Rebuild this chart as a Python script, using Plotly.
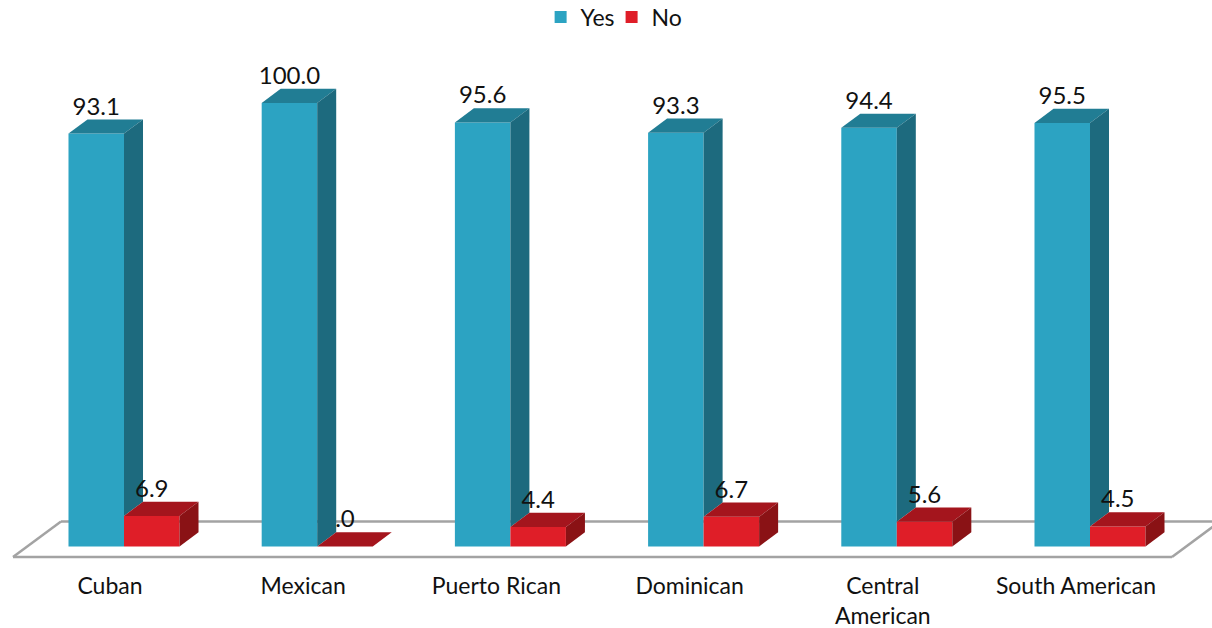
import plotly.graph_objects as go

categories = ["Cuban", "Mexican", "Puerto Rican", "Dominican", "Central<br>American", "South American"]
yes_values = [93.1, 100.0, 95.6, 93.3, 94.4, 95.5]
no_values = [6.9, 0.0, 4.4, 6.7, 5.6, 4.5]
yes_labels = ["93.1", "100.0", "95.6", "93.3", "94.4", "95.5"]
no_labels = ["6.9", ".0", "4.4", "6.7", "5.6", "4.5"]

YES_FRONT, YES_SIDE, YES_TOP = "#2CA3C2", "#1D6A7E", "#217D94"
NO_FRONT, NO_SIDE, NO_TOP = "#DF1E28", "#8A1215", "#A4151D"
FLOOR = "#A3A3A3"
FONT = "Lato"

BAR_W = 0.2873      # width of one bar, in category units
DX = 0.0984         # depth of the 3D effect, category units
DY = 3.2            # depth of the 3D effect, value units
LABEL_UP = 5.65     # label centre above the bar's front top
TICK_SHIFT = -0.0725

xs = list(range(len(categories)))
fig = go.Figure()


def poly(px, py, color):
    fig.add_trace(go.Scatter(x=px + [px[0]], y=py + [py[0]], mode="lines", fill="toself",
                             fillcolor=color, line=dict(width=0, color=color),
                             hoverinfo="skip", showlegend=False))


fig.add_trace(go.Bar(x=xs, y=yes_values, width=BAR_W, offset=-BAR_W, name="Yes",
                     marker=dict(color=YES_FRONT, line=dict(width=0))))
fig.add_trace(go.Bar(x=xs, y=no_values, width=BAR_W, offset=0, name="No",
                     marker=dict(color=NO_FRONT, line=dict(width=0))))

for x, y, n in zip(xs, yes_values, no_values):
    l, r = x - BAR_W, x
    poly([l, r, r + DX, l + DX], [y, y, y + DY, y + DY], YES_TOP)
    poly([r, r + DX, r + DX, r], [n, n + DY, y + DY, y], YES_SIDE)

for x, n in zip(xs, no_values):
    l, r = x, x + BAR_W
    poly([l, r, r + DX, l + DX], [n, n, n + DY, n + DY], NO_TOP)
    if n > 0:
        poly([r, r + DX, r + DX, r], [0, DY, n + DY, n], NO_SIDE)

fig.add_trace(go.Scatter(x=[x - BAR_W / 2 for x in xs], y=[v + LABEL_UP for v in yes_values],
                         text=yes_labels, mode="text", textposition="middle center",
                         textfont=dict(family=FONT, size=24, color="#111111"),
                         hoverinfo="skip", showlegend=False, cliponaxis=False))
fig.add_trace(go.Scatter(x=[x + BAR_W / 2 for x in xs], y=[v + LABEL_UP for v in no_values],
                         text=no_labels, mode="text", textposition="middle center",
                         textfont=dict(family=FONT, size=24, color="#111111"),
                         hoverinfo="skip", showlegend=False, cliponaxis=False))

FLOOR_L, FLOOR_R = -0.5745, 5.4244
FLOOR_Y0, FLOOR_Y1 = -2.37, 5.65
FLOOR_DX = 0.2484
floor_segments = [
    (FLOOR_L, FLOOR_Y0, FLOOR_R, FLOOR_Y0),
    (FLOOR_L, FLOOR_Y0, FLOOR_L + FLOOR_DX, FLOOR_Y1),
    (FLOOR_L + FLOOR_DX, FLOOR_Y1, FLOOR_R + FLOOR_DX, FLOOR_Y1),
    (FLOOR_R, FLOOR_Y0, FLOOR_R + FLOOR_DX, FLOOR_Y1),
]
shapes = [dict(type="line", xref="x", yref="y", x0=a, y0=b, x1=c, y1=d, layer="below",
               line=dict(color=FLOOR, width=2.5)) for a, b, c, d in floor_segments]

fig.update_layout(
    width=1212, height=628, autosize=False,
    margin=dict(l=0, r=0, t=0, b=58, pad=0, autoexpand=False),
    paper_bgcolor="white", plot_bgcolor="white",
    font=dict(family=FONT, size=23, color="#111111"),
    barmode="overlay",
    shapes=shapes,
    showlegend=True,
    legend=dict(orientation="h", x=0.51, xanchor="center", y=1.0077, yanchor="top",
                font=dict(family=FONT, size=23, color="#111111"), indentation=-8,
                bgcolor="rgba(0,0,0,0)", traceorder="normal"),
    xaxis=dict(range=[-124 / 193.2, 1088 / 193.2], tickmode="array",
               tickvals=[x + TICK_SHIFT for x in xs], ticktext=categories,
               showgrid=False, zeroline=False, showline=False, ticks="",
               tickfont=dict(family=FONT, size=23, color="#111111"), tickangle=0),
    yaxis=dict(range=[-5.30, 123.22], visible=False, showgrid=False, zeroline=False),
)

fig.write_html("out.html", config={"displayModeBar": False},
               post_script="document.body.style.margin='0';")
